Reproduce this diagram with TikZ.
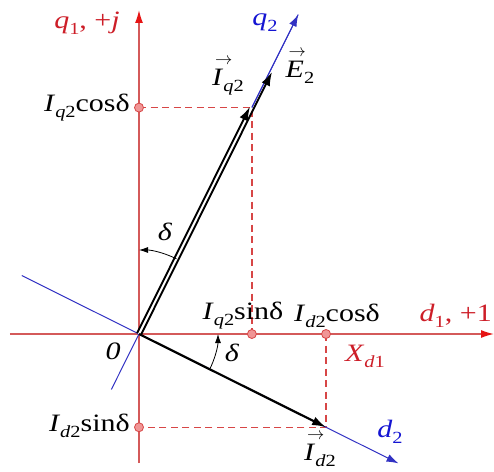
\documentclass[tikz,border=0pt]{standalone}
\usepackage{fontspec}
\setmainfont{Liberation Serif}[FakeStretch=1.2]
\usetikzlibrary{arrows.meta,calc}
\definecolor{axred}{RGB}{212,90,90}
\definecolor{tipred}{RGB}{230,20,20}
\definecolor{txtred}{RGB}{205,30,40}
\definecolor{dashred}{RGB}{215,70,70}
\definecolor{dotfill}{RGB}{240,150,150}
\definecolor{axblue}{RGB}{50,50,195}
\definecolor{txtblue}{RGB}{20,20,210}
\newcommand\sbx[1]{\raisebox{-6pt}{\fontsize{17}{19}\selectfont #1}}
\newcommand\vv[1]{\rlap{\kern3pt\raisebox{21pt}[0pt][0pt]{\fontsize{19}{19}\selectfont$\rightarrow$}}\textit{#1}}
\begin{document}
\begin{tikzpicture}[x=1pt,y=1pt,
  lbl/.style={font=\fontsize{25}{29}\selectfont, inner sep=0pt},
  redax/.style={axred, line width=1.3pt, -{Latex[length=13pt,width=8pt,color=tipred]}},
  blueax/.style={axblue, line width=1pt},
  dsh/.style={dashred, line width=1.4pt, dash pattern=on 7pt off 4.5pt},
  vec/.style={black, line width=1.9pt, -{Latex[length=14pt,width=9pt]}},
  angarc/.style={black, line width=0.8pt, -{Latex[length=9pt,width=6pt]}},
  dot/.style={circle, draw=dashred, fill=dotfill, line width=0.8pt, minimum size=9pt, inner sep=0pt}]
\useasboundingbox (-139,-137) rectangle (355,334);
\coordinate (O) at (0,0);
\coordinate (ybot) at (0,-129);
\coordinate (ytop) at (0,324);
\coordinate (xl) at (-129,0);
\coordinate (xr) at (355,0);
\coordinate (q2a) at (243.5:62);
\coordinate (q2b) at (63.5:357);
\coordinate (d2a) at (153.5:131);
\coordinate (d2b) at (-26.5:290);
\coordinate (Iq) at (63.5:253);
\coordinate (E) at (63.5:294);
\coordinate (Id) at (-26.5:209);
\coordinate (Pqc) at (O |- Iq);
\coordinate (Pqs) at (Iq |- O);
\coordinate (Pdc) at (Id |- O);
\coordinate (Pds) at (O |- Id);
% dashed projections
\draw[dsh] (Pqc) -- (Iq) -- (Pqs);
\draw[dsh] (Pdc) -- (Id) -- (Pds);
% axes
\draw[redax] (ybot) -- (ytop);
\draw[redax] (xl) -- (xr);
\draw[blueax] (q2a) -- (q2b);
\draw[blueax, -{Latex[length=12pt,width=8pt]}] (d2a) -- (d2b);
\draw[blueax, -{Latex[length=12pt,width=8pt]}] (O) -- (q2b);
% vectors
\draw[white, line width=2.4pt] (O) -- (Iq);
\draw[vec] ($(O)+(153.5:2.1)$) -- ($(Iq)+(153.5:2.1)$);
\draw[vec] ($(O)+(-26.5:2.1)$) -- ($(E)+(-26.5:2.1)$);
\draw[vec, line width=2.2pt] (O) -- (Id);
% dots
\node[dot] (dqc) at (Pqc) {};
\node[dot] (dqs) at (Pqs) {};
\node[dot] (ddc) at (Pdc) {};
\node[dot] (dds) at (Pds) {};
% angle arcs
\draw[angarc] (63.5:84) arc[start angle=63.5, end angle=90, radius=84];
\draw[angarc] (-26.5:79) arc[start angle=-26.5, end angle=0, radius=79];
% labels
\node[lbl, txtred] (lq1) at (-52,311) {\textit{q}\sbx{1}, +\textit{j}};
\node[lbl, txtblue] (lq2) at (126,311) {\textit{q}\sbx{2}};
\node[lbl] (lE) at (161,262) {\vv{E}\sbx{2}};
\node[lbl] (lIq) at (89,252) {\vv{I}\sbx{\textit{q}2}};
\node[lbl, anchor=east] (lqc) at (-9,226) {\textit{I}\sbx{\textit{q}2}cosδ};
\node[lbl] (ld1) at (26,102) {\textit{δ}};
\node[lbl] (lqs) at (104,18) {\textit{I}\sbx{\textit{q}2}sinδ};
\node[lbl] (ldc) at (198,18) {\textit{I}\sbx{\textit{d}2}cosδ};
\node[lbl, txtred, anchor=east] (ld1ax) at (353,18) {\textit{d}\sbx{1}, +1};
\node[lbl] (l0) at (-26,-17) {\textit{0}};
\node[lbl] (ld2a) at (93,-19) {\textit{δ}};
\node[lbl, txtred] (lX) at (226,-22) {\textit{X}\sbx{\textit{d}1}};
\node[lbl, anchor=east] (lds) at (-9,-92) {\textit{I}\sbx{\textit{d}2}sinδ};
\node[lbl] (lId) at (181,-121) {\vv{I}\sbx{\textit{d}2}};
\node[lbl, txtblue] (ld2) at (251,-98) {\textit{d}\sbx{2}};
\end{tikzpicture}
\end{document}
